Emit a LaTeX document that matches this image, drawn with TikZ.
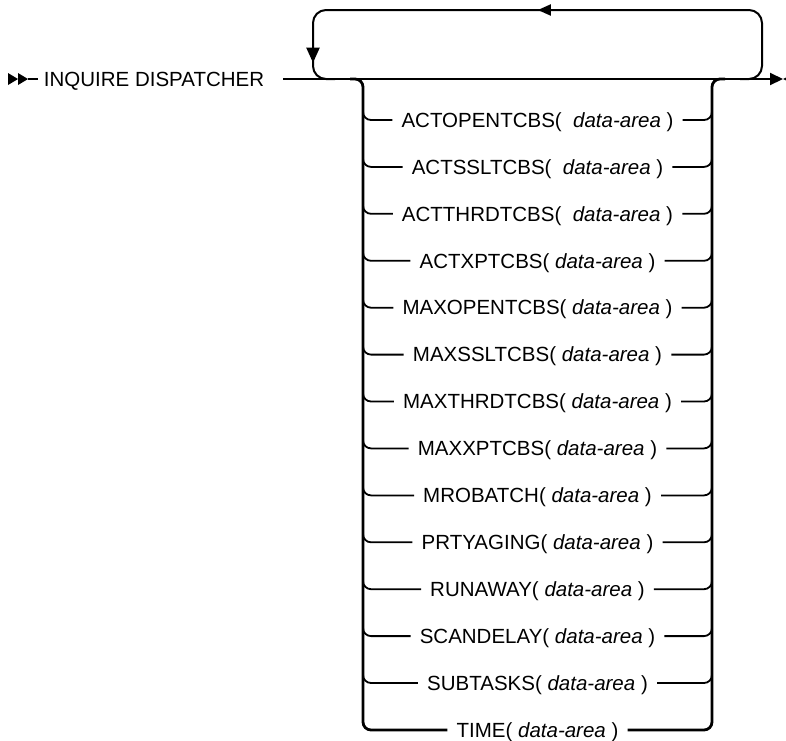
\documentclass[tikz,border=0pt]{standalone}
\usepackage{fontspec}
\setmainfont{Liberation Sans}
\usetikzlibrary{arrows.meta,decorations.markings,calc}
\tikzset{
	rail/.style={line width=2pt},
	trunk/.style={line width=2.8pt, rounded corners=8pt},
	branch/.style={line width=1.8pt, rounded corners=8pt},
	opt/.style={
		inner xsep=9pt, inner ysep=0pt,
		text height=14.5pt, text depth=0pt,
		font=\fontsize{20.5}{24}\selectfont
	},
}

\begin{document}
\begin{tikzpicture}[x=1pt,y=-1pt,
			tip/.style={-{Triangle[length=13pt,width=12pt]}},
			loop_arrow/.style={postaction={decorate},
				decoration={markings,
					mark=at position 304pt with {\arrow{Triangle[length=13pt,width=11pt]}},
					mark=at position 576pt with {\arrow{Triangle[length=15pt,width=13pt]}}}}]
		\useasboundingbox (0,0) rectangle (786,740);
		\node[opt,inner xsep=0pt] (cmd) at (154,79) {INQUIRE DISPATCHER};
		\coordinate (begin) at (8,79);
		\coordinate (in) at (283,79);
		\coordinate (out) at (783,79);
		\coordinate (lv) at (363,79);
		\coordinate (rv) at (712,79);
		\coordinate (loopin) at (740,79);
		\coordinate (loopout) at (335,79);
		% options
		\node[opt] (actopen)   at (537.5,120)   {ACTOPENTCBS(\ \ \textit{data-area} )};
		\node[opt] (actssl)    at (537.5,166.9) {ACTSSLTCBS(\ \ \textit{data-area} )};
		\node[opt] (actthrd)   at (537.5,213.8) {ACTTHRDTCBS(\ \ \textit{data-area} )};
		\node[opt] (actxp)     at (537.5,260.8) {ACTXPTCBS( \textit{data-area} )};
		\node[opt] (maxopen)   at (537.5,307.7) {MAXOPENTCBS( \textit{data-area} )};
		\node[opt] (maxssl)    at (537.5,354.6) {MAXSSLTCBS( \textit{data-area} )};
		\node[opt] (maxthrd)   at (537.5,401.5) {MAXTHRDTCBS( \textit{data-area} )};
		\node[opt] (maxxp)     at (537.5,448.4) {MAXXPTCBS( \textit{data-area} )};
		\node[opt] (mrobatch)  at (537.5,495.4) {MROBATCH( \textit{data-area} )};
		\node[opt] (prtyaging) at (537.5,542.3) {PRTYAGING( \textit{data-area} )};
		\node[opt] (runaway)   at (537.5,589.2) {RUNAWAY( \textit{data-area} )};
		\node[opt] (scandelay) at (537.5,636.1) {SCANDELAY( \textit{data-area} )};
		\node[opt] (subtasks)  at (537.5,683)   {SUBTASKS( \textit{data-area} )};
		\node[opt] (time)      at (537.5,730)   {TIME( \textit{data-area} )};
		% start and end marks
		\fill (begin) ++(0,-6) -- ++(10,6) -- ++(-10,6) -- cycle;
		\fill (begin) ++(10,-6) -- ++(10,6) -- ++(-10,6) -- cycle;
		\draw[rail] ($(begin)+(20,0)$) -- ++(10,0);
		\fill (out) -- ++(12,-6) -- ++(0,12) -- cycle;
		\draw[rail,tip] (in) -- (out);
		% repeat loop
		\draw[rail,rounded corners=13pt,loop_arrow] (loopin) -| (762,10) -| (313,79) -- (loopout);
		% choice
		\draw[trunk] ($(lv)+(-13,0)$) -| (lv |- time) -- (time.west);
		\draw[trunk] (time.east) -| (rv) -- ++(13,0);
		\foreach \r in {actopen,actssl,actthrd,actxp,maxopen,maxssl,maxthrd,maxxp,mrobatch,prtyaging,runaway,scandelay,subtasks}{
			\draw[branch] ($(lv |- \r)+(0,-14)$) |- (\r.west);
			\draw[branch] (\r.east) -| ($(rv |- \r)+(0,-14)$);
		}
	\end{tikzpicture}
\end{document}
